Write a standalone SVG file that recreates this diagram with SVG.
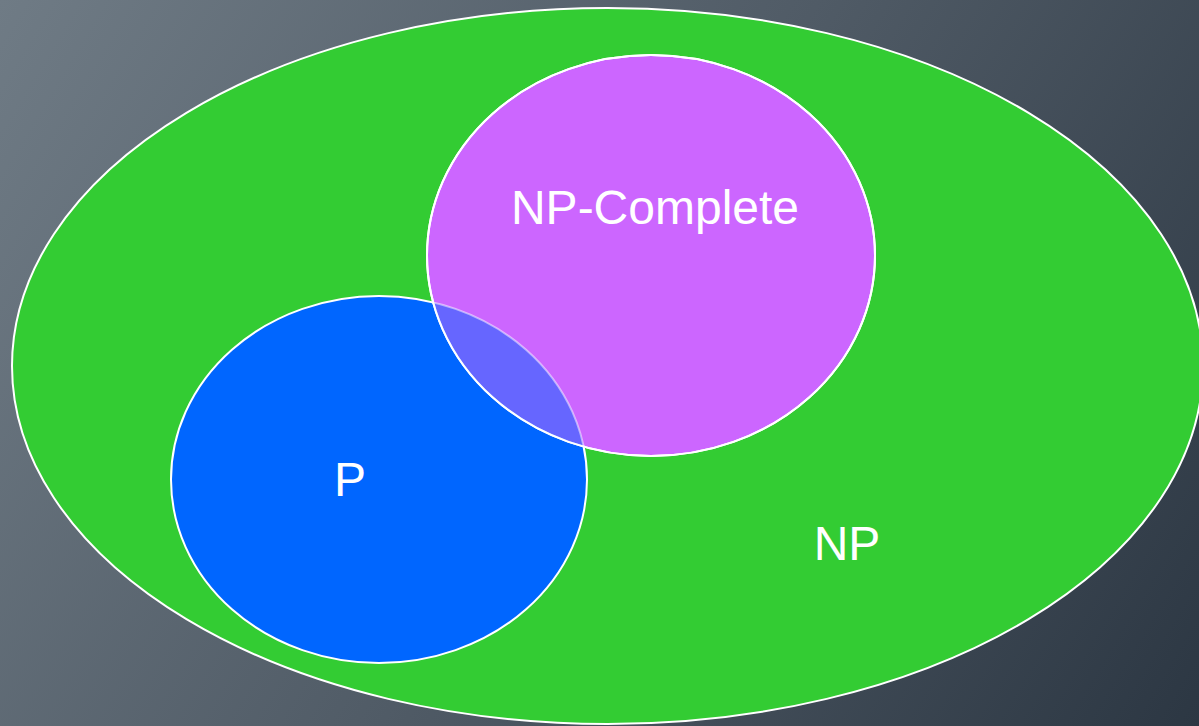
<svg xmlns="http://www.w3.org/2000/svg" width="1199" height="726" viewBox="0 0 1199 726">
  <defs>
    <linearGradient id="bg" gradientUnits="userSpaceOnUse" x1="0" y1="0" x2="1199" y2="726">
      <stop offset="0" stop-color="#6f7b85"/>
      <stop offset="0.5" stop-color="#505b66"/>
      <stop offset="1" stop-color="#2c3743"/>
    </linearGradient>
    <ellipse id="npc-shape" cx="651" cy="255.5" rx="224" ry="200.5"/>
    <ellipse id="p-shape" cx="379" cy="479.5" rx="208" ry="183.5"/>
    <clipPath id="npc-clip">
      <use href="#npc-shape"/>
    </clipPath>
  </defs>
  <style>
    .set { stroke: #ffffff; stroke-width: 2; }
    .label { font-family: "Liberation Sans", Arial, sans-serif; font-size: 48px; fill: #ffffff; text-anchor: middle; }
  </style>

  <rect x="0" y="0" width="1199" height="726" fill="url(#bg)"/>

  <g id="np">
    <ellipse class="set" cx="607.5" cy="366" rx="595.5" ry="358" fill="#33cc33"/>
    <text class="label" x="847" y="560">NP</text>
  </g>

  <g id="p">
    <use href="#p-shape" class="set" fill="#0066ff"/>
    <text class="label" x="350" y="496">P</text>
  </g>

  <g id="np-complete">
    <use href="#npc-shape" class="set" fill="#cc66ff"/>
    <!-- overlap of P and NP-Complete: P shown through at half strength -->
    <g clip-path="url(#npc-clip)">
      <use href="#p-shape" fill="#0066ff" fill-opacity="0.5" stroke="#ffffff" stroke-opacity="0.5" stroke-width="2"/>
    </g>
    <use href="#npc-shape" class="set" fill="none"/>
    <text class="label" x="655" y="224">NP-Complete</text>
  </g>

  <g id="connectors"/>
</svg>
